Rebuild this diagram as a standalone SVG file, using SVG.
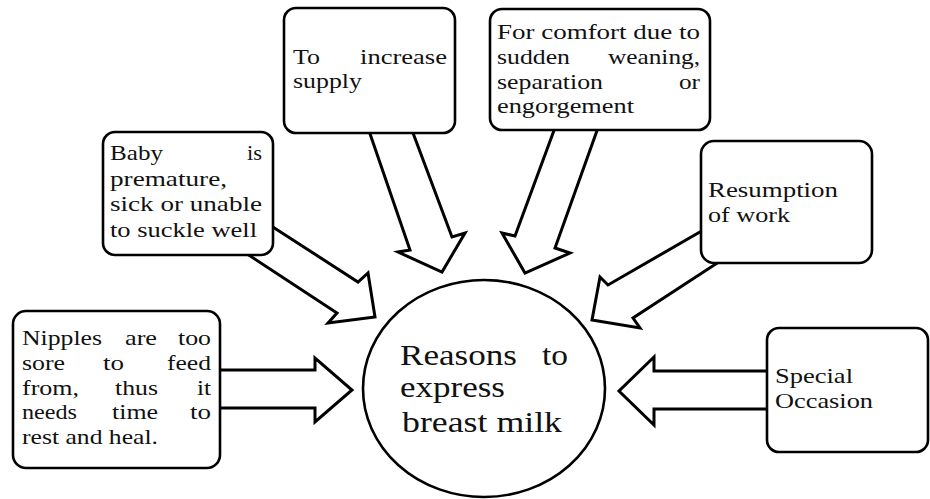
<svg xmlns="http://www.w3.org/2000/svg" width="930" height="499" viewBox="0 0 930 499" font-family="Liberation Serif, Times New Roman, Times, DejaVu Serif, Noto Serif, serif">
<style>
.box{fill:#fff;stroke:#000;stroke-width:2.6}
.arr{fill:#fff;stroke:#000;stroke-width:3;stroke-linejoin:miter}
.t{font-size:21px;fill:#111}
.c{font-size:29px;fill:#111}
</style>
<rect width="930" height="499" fill="#fff"/>
<g id="connectors">
<polygon class="arr" points="212,370 315,370 315,358 352,390 315,422 315,408 212,408"/>
<polygon class="arr" points="780,371 654,371 654,357 619,391 654,425 654,409 780,409"/>
<polygon class="arr" points="262,220 358,282 368,273 375,317 328,323 337,313 238,248"/>
<polygon class="arr" points="367,125 410,250 398,252 442,272 465,233 452,237 410,125"/>
<polygon class="arr" points="556,125 515,236 502,233 525,273 570,253 555,248 599,125"/>
<polygon class="arr" points="712,225 608,285 600,277 592,320 640,328 633,318 725,258"/>
</g>
<g id="center" font-family="Liberation Serif, serif">
<ellipse class="box" cx="484" cy="388.5" rx="121" ry="108.5"/>
<text class="c" x="400" y="365" textLength="117" lengthAdjust="spacingAndGlyphs">Reasons</text>
<text class="c" x="542" y="365" textLength="26" lengthAdjust="spacingAndGlyphs">to</text>
<text class="c" x="400" y="397" textLength="105" lengthAdjust="spacingAndGlyphs">express</text>
<text class="c" x="402" y="432" textLength="160" lengthAdjust="spacingAndGlyphs">breast milk</text>
</g>
<g id="nipples">
<rect class="box" x="13" y="311" width="207" height="157" rx="13"/>
<text class="t" x="22" y="345" textLength="80" lengthAdjust="spacingAndGlyphs">Nipples</text>
<text class="t" x="125" y="345" textLength="32" lengthAdjust="spacingAndGlyphs">are</text>
<text class="t" x="178" y="345" textLength="33" lengthAdjust="spacingAndGlyphs">too</text>
<text class="t" x="22" y="370" textLength="43" lengthAdjust="spacingAndGlyphs">sore</text>
<text class="t" x="103" y="370" textLength="21" lengthAdjust="spacingAndGlyphs">to</text>
<text class="t" x="167" y="370" textLength="44" lengthAdjust="spacingAndGlyphs">feed</text>
<text class="t" x="22" y="395" textLength="57" lengthAdjust="spacingAndGlyphs">from,</text>
<text class="t" x="115" y="395" textLength="43" lengthAdjust="spacingAndGlyphs">thus</text>
<text class="t" x="197" y="395" textLength="14" lengthAdjust="spacingAndGlyphs">it</text>
<text class="t" x="22" y="419" textLength="55" lengthAdjust="spacingAndGlyphs">needs</text>
<text class="t" x="112" y="419" textLength="46" lengthAdjust="spacingAndGlyphs">time</text>
<text class="t" x="190" y="419" textLength="21" lengthAdjust="spacingAndGlyphs">to</text>
<text class="t" x="22" y="444" textLength="136" lengthAdjust="spacingAndGlyphs">rest and heal.</text>
</g>
<g id="baby">
<rect class="box" x="103" y="132" width="170" height="123" rx="12"/>
<text class="t" x="110" y="160" textLength="53" lengthAdjust="spacingAndGlyphs">Baby</text>
<text class="t" x="247" y="160" textLength="15" lengthAdjust="spacingAndGlyphs">is</text>
<text class="t" x="110" y="186" textLength="117" lengthAdjust="spacingAndGlyphs">premature,</text>
<text class="t" x="110" y="211" textLength="152" lengthAdjust="spacingAndGlyphs">sick or unable</text>
<text class="t" x="110" y="237" textLength="147" lengthAdjust="spacingAndGlyphs">to suckle well</text>
</g>
<g id="supply">
<rect class="box" x="284" y="8" width="171" height="125" rx="12"/>
<text class="t" x="293" y="64" textLength="27" lengthAdjust="spacingAndGlyphs">To</text>
<text class="t" x="360" y="64" textLength="87" lengthAdjust="spacingAndGlyphs">increase</text>
<text class="t" x="293" y="88" textLength="69" lengthAdjust="spacingAndGlyphs">supply</text>
</g>
<g id="comfort">
<rect class="box" x="490" y="9" width="220" height="121" rx="12"/>
<text class="t" x="497" y="39" textLength="203" lengthAdjust="spacingAndGlyphs">For comfort due to</text>
<text class="t" x="497" y="64" textLength="73" lengthAdjust="spacingAndGlyphs">sudden</text>
<text class="t" x="608" y="64" textLength="92" lengthAdjust="spacingAndGlyphs">weaning,</text>
<text class="t" x="497" y="89" textLength="106" lengthAdjust="spacingAndGlyphs">separation</text>
<text class="t" x="679" y="89" textLength="21" lengthAdjust="spacingAndGlyphs">or</text>
<text class="t" x="497" y="113" textLength="137" lengthAdjust="spacingAndGlyphs">engorgement</text>
</g>
<g id="work">
<rect class="box" x="701" y="141" width="171" height="122" rx="13"/>
<text class="t" x="708" y="197" textLength="130" lengthAdjust="spacingAndGlyphs">Resumption</text>
<text class="t" x="708" y="222" textLength="82" lengthAdjust="spacingAndGlyphs">of work</text>
</g>
<g id="occasion">
<rect class="box" x="767" y="328" width="161" height="124" rx="12"/>
<text class="t" x="775" y="383" textLength="78" lengthAdjust="spacingAndGlyphs">Special</text>
<text class="t" x="775" y="408" textLength="98" lengthAdjust="spacingAndGlyphs">Occasion</text>
</g>
</svg>
